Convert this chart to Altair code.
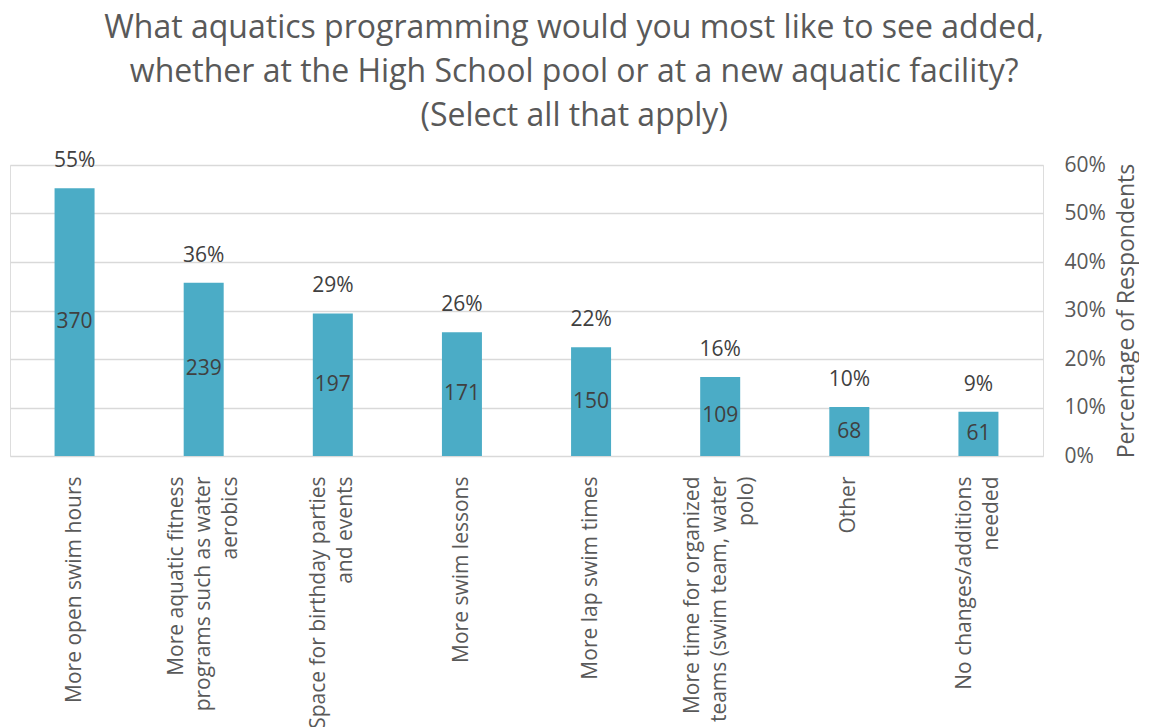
import altair as alt
import pandas as pd

categories = [
    "More open swim hours",
    "More aquatic fitness|programs such as water|aerobics",
    "Space for birthday parties|and events",
    "More swim lessons",
    "More lap swim times",
    "More time for organized|teams (swim team, water|polo)",
    "Other",
    "No changes/additions|needed",
]
counts = [370, 239, 197, 171, 150, 109, 68, 61]
percents = [55.2, 35.7, 29.4, 25.5, 22.4, 16.3, 10.1, 9.1]
pct_labels = ["55%", "36%", "29%", "26%", "22%", "16%", "10%", "9%"]
y_ticks = [0, 10, 20, 30, 40, 50, 60]

df = pd.DataFrame({
    "cat": categories,
    "count": counts,
    "pct": percents,
    "pct_label": pct_labels,
})

FONT = "Open Sans"
BAR = "#4BACC6"
LH = 27

x_enc = alt.X(
    "cat:N",
    sort=categories,
    scale=alt.Scale(paddingInner=0.69, paddingOuter=0.345),
    axis=alt.Axis(
        title=None,
        labelAngle=270,
        labelAlign="right",
        labelBaseline="middle",
        labelExpr="split(datum.label, '|')",
        labelFont=FONT,
        labelFontSize=21,
        labelColor="#595959",
        labelLineHeight=LH,
        labelPadding=20,
        labelLimit=400,
        labelOffset={
            "condition": [
                {"test": "length(split(datum.label, '|')) == 3", "value": -LH},
                {"test": "length(split(datum.label, '|')) == 2", "value": -LH / 2},
            ],
            "value": 0,
        },
        ticks=False,
        domain=False,
        grid=False,
    ),
)

y_scale = alt.Scale(domain=[0, 60], nice=False)

bars = alt.Chart(df).mark_bar(color=BAR, width=40).encode(
    x=x_enc,
    y=alt.Y(
        "pct:Q",
        scale=y_scale,
        axis=alt.Axis(
            orient="right",
            values=y_ticks,
            labelExpr="datum.value + '%'",
            title="Percentage of Respondents",
            titleFont=FONT,
            titleFontSize=23,
            titleFontWeight="normal",
            titleColor="#595959",
            titleAngle=270,
            titleBaseline="top",
            titlePadding=10,
            labelFont=FONT,
            labelFontSize=21,
            labelColor="#595959",
            labelPadding=21,
            labelAlign="left",
            ticks=False,
            domain=False,
            gridColor="#d9d9d9",
            gridWidth=1.5,
        ),
    ),
)

count_text = alt.Chart(df).transform_calculate(
    mid="datum.pct / 2"
).mark_text(
    font=FONT, fontSize=21, color="#404040", baseline="middle"
).encode(
    x=alt.X("cat:N", sort=categories),
    y=alt.Y("mid:Q", scale=y_scale),
    text="count:N",
)

pct_text = alt.Chart(df).mark_text(
    font=FONT, fontSize=21, color="#404040", baseline="middle", dy=-27
).encode(
    x=alt.X("cat:N", sort=categories),
    y=alt.Y("pct:Q", scale=y_scale),
    text="pct_label:N",
)

chart = alt.layer(bars, count_text, pct_text).properties(
    width=1033,
    height=291,
    padding={"left": 2, "top": 4, "right": 0, "bottom": 0},
    title=alt.TitleParams(
        text=[
            "What aquatics programming would you most like to see added,",
            "whether at the High School pool or at a new aquatic facility?",
            "(Select all that apply)",
        ],
        font=FONT,
        fontSize=32,
        fontWeight="normal",
        color="#595959",
        lineHeight=44,
        anchor="middle",
        frame="bounds",
        offset=17,
    ),
).configure_view(stroke=None).configure(background="white")

chart.save("out.html", embed_options={"renderer": "svg", "actions": False})
